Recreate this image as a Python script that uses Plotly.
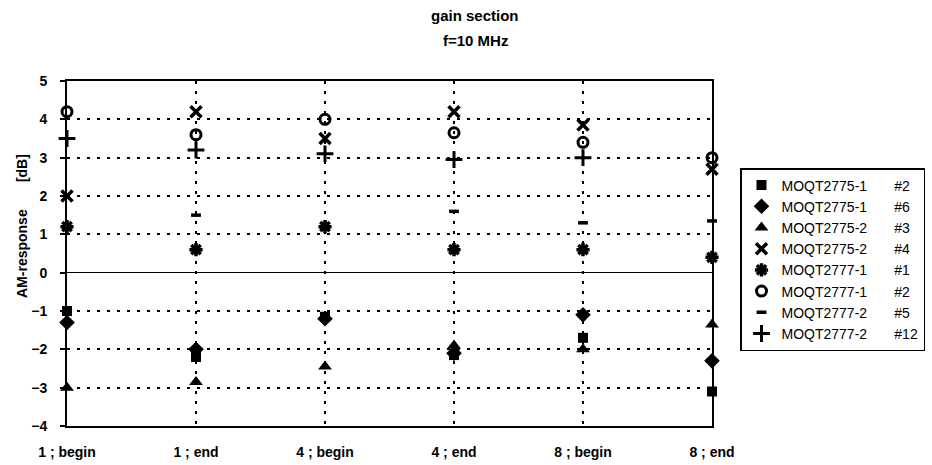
import plotly.graph_objects as go

# positions along the gain section
categories = ["1 ; begin", "1 ; end", "4 ; begin", "4 ; end", "8 ; begin", "8 ; end"]

# AM-response [dB] per device
moqt2775_1_n2 = [-1.0, -2.2, -1.15, -2.15, -1.7, -3.1]
moqt2775_1_n6 = [-1.3, -2.0, -1.2, -2.1, -1.1, -2.3]
moqt2775_2_n3 = [-3.0, -2.85, -2.45, -1.9, -2.0, -1.35]
moqt2775_2_n4 = [2.0, 4.2, 3.5, 4.2, 3.85, 2.7]
moqt2777_1_n1 = [1.2, 0.6, 1.2, 0.6, 0.6, 0.4]
moqt2777_1_n2 = [4.2, 3.6, 4.0, 3.65, 3.4, 3.0]
moqt2777_2_n5 = [1.2, 1.5, 1.2, 1.6, 1.3, 1.35]
moqt2777_2_n12 = [3.5, 3.2, 3.1, 2.95, 3.0, None]

y_ticks = [-4, -3, -2, -1, 0, 1, 2, 3, 4, 5]

FONT = "Liberation Sans, Arial, sans-serif"
SP = "\u00a0" * 7

series = [
    ("MOQT2775-1" + SP + "#2", moqt2775_1_n2, dict(symbol="square", size=10)),
    ("MOQT2775-1" + SP + "#6", moqt2775_1_n6, dict(symbol="diamond", size=12)),
    ("MOQT2775-2" + SP + "#3", moqt2775_2_n3, dict(symbol="triangle-up", size=12)),
    ("MOQT2775-2" + SP + "#4", moqt2775_2_n4,
     dict(symbol="x-thin-open", size=11, line=dict(width=3.5, color="black"))),
    ("MOQT2777-1" + SP + "#1", moqt2777_1_n1,
     dict(symbol="asterisk-open", size=11, line=dict(width=3.5, color="black"))),
    ("MOQT2777-1" + SP + "#2", moqt2777_1_n2,
     dict(symbol="circle-open", size=10, line=dict(width=3, color="black"))),
    ("MOQT2777-2" + SP + "#5", moqt2777_2_n5,
     dict(symbol="line-ew-open", size=7, line=dict(width=3.5, color="black"))),
    ("MOQT2777-2" + SP + "#12", moqt2777_2_n12,
     dict(symbol="cross-thin-open", size=12, line=dict(width=3, color="black"))),
]

fig = go.Figure()
for name, vals, marker in series:
    fig.add_trace(go.Scatter(
        x=list(range(len(categories))), y=vals, name=name, mode="markers",
        marker=dict(color="black", **marker), cliponaxis=False,
    ))

PLOT_LEFT, PLOT_RIGHT = 67, 712
PLOT_TOP, PLOT_BOTTOM = 81, 426
PLOT_W = PLOT_RIGHT - PLOT_LEFT
PLOT_H = PLOT_BOTTOM - PLOT_TOP


def paper_x(px):
    return (px - PLOT_LEFT) / PLOT_W


def paper_y(px):
    return (PLOT_BOTTOM - px) / PLOT_H


fig.update_layout(
    width=932, height=465,
    margin=dict(l=PLOT_LEFT, r=932 - PLOT_RIGHT, t=PLOT_TOP, b=465 - PLOT_BOTTOM,
                autoexpand=False),
    paper_bgcolor="white", plot_bgcolor="white",
    font=dict(family=FONT, color="black"),
    showlegend=True,
    legend=dict(
        x=paper_x(740), xanchor="left", y=paper_y(168), yanchor="top",
        bordercolor="black", borderwidth=1.5, bgcolor="white",
        font=dict(size=14, family=FONT),
        itemwidth=30, tracegroupgap=0,
    ),
)

# two-line heading
for text, ypx in [("<b>gain section</b>", 15), ("<b>f=10 MHz</b>", 40)]:
    fig.add_annotation(
        text=text, x=paper_x(475), xref="paper", xanchor="center",
        y=paper_y(ypx), yref="paper", yanchor="middle",
        showarrow=False, font=dict(size=15, family=FONT),
    )

fig.update_xaxes(
    range=[0, 5], tickvals=list(range(len(categories))), ticktext=categories,
    showgrid=True, gridcolor="black", gridwidth=1.5, griddash="3px,7px",
    showline=True, linecolor="black", linewidth=2, mirror=True,
    ticks="", tickfont=dict(size=14, family=FONT, weight="bold"),
    ticklabelstandoff=12, zeroline=False,
)
fig.update_yaxes(
    range=[-4, 5], tickvals=y_ticks,
    showgrid=True, gridcolor="black", gridwidth=1.5, griddash="3px,7px",
    showline=True, linecolor="black", linewidth=2, mirror=True,
    ticks="outside", ticklen=5, tickwidth=1.5, tickcolor="black",
    tickfont=dict(size=14, family=FONT, weight="bold"),
    ticklabelstandoff=10,
    zeroline=True, zerolinecolor="black", zerolinewidth=1.2,
)

# rotated axis caption
fig.add_annotation(
    text="<b>AM-response" + "\u00a0" * 7 + "[dB]</b>",
    x=paper_x(22), xref="paper", xanchor="center",
    y=paper_y(226), yref="paper", yanchor="middle",
    textangle=-90, showarrow=False, font=dict(size=14, family=FONT),
)

fig.write_html("out.html")
